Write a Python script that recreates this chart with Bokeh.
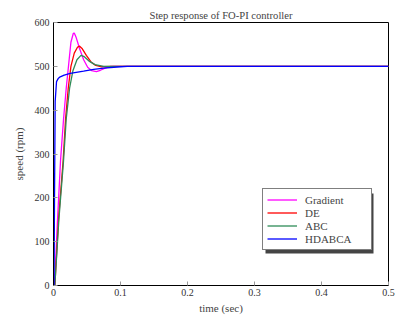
from bokeh.plotting import figure
from bokeh.models import Range1d, FixedTicker, Legend, LegendItem, BoxAnnotation
from bokeh.embed import file_html
from bokeh.resources import INLINE

# Data (time in s, speed in rpm)
t_grad = [0, 0.0015, 0.006, 0.0105, 0.015, 0.019, 0.023, 0.026, 0.0295, 0.031, 0.034, 0.039, 0.045,
          0.051, 0.057, 0.064, 0.070, 0.077, 0.085, 0.1, 0.2, 0.3, 0.4, 0.5]
v_grad = [0, 0, 150, 285, 380, 450, 510, 555, 575, 576, 565, 540, 515,
          498, 490, 488, 491, 496, 500, 500, 500, 500, 500, 500]

t_de = [0, 0.002, 0.0075, 0.0144, 0.018, 0.022, 0.026, 0.031, 0.036, 0.039, 0.043, 0.049,
        0.056, 0.063, 0.072, 0.09, 0.2, 0.3, 0.4, 0.5]
v_de = [0, 0, 150, 285, 380, 450, 500, 530, 544, 546, 540, 525,
        510, 502, 499, 500, 500, 500, 500, 500]

t_abc = [0, 0.002, 0.008, 0.015, 0.019, 0.024, 0.029, 0.035, 0.041, 0.046, 0.053, 0.062,
         0.075, 0.1, 0.2, 0.3, 0.4, 0.5]
v_abc = [0, 0, 150, 285, 380, 450, 490, 515, 525, 522, 512, 504,
         500, 500, 500, 500, 500, 500]

t_hd = [0, 0.0008, 0.0015, 0.0025, 0.0045, 0.007, 0.01, 0.016, 0.025, 0.045, 0.06, 0.075,
        0.095, 0.11, 0.2, 0.3, 0.4, 0.5]
v_hd = [0, 0, 200, 420, 465, 472, 476, 480, 484, 489, 493, 496,
        498.5, 500, 500, 500, 500, 500]

names = ["Gradient", "DE", "ABC", "HDABCA"]
colors = ["#ff00ff", "#ff0000", "#2e8b57", "#0000ff"]
x_ticks = [0, 0.1, 0.2, 0.3, 0.4, 0.5]
y_ticks = [0, 100, 200, 300, 400, 500, 600]

FONT = "Liberation Serif"

p = figure(width=395, height=320, output_backend="svg", toolbar_location=None,
           x_range=Range1d(0, 0.5), y_range=Range1d(0, 600),
           min_border_left=53, min_border_right=7, min_border_top=22, min_border_bottom=35)
p.title.text = "Step response of FO-PI controller"
p.title.text_font = FONT
p.title.text_font_size = "10.6px"
p.title.text_font_style = "normal"
p.title.align = "center"
p.title.standoff = 4

p.xgrid.visible = False
p.ygrid.visible = False
p.outline_line_color = "black"
p.outline_line_width = 1
p.background_fill_color = "white"

for ax in (p.xaxis[0], p.yaxis[0]):
    ax.major_tick_in = 4
    ax.major_tick_out = 0
    ax.minor_tick_in = 0
    ax.minor_tick_out = 0
    ax.axis_line_color = "black"
    ax.major_tick_line_color = "#999999"
    ax.major_label_text_font = FONT
    ax.major_label_text_font_size = "10px"
    ax.major_label_text_color = "#333333"
    ax.axis_label_text_font = FONT
    ax.axis_label_text_font_size = "11px"
    ax.axis_label_text_font_style = "normal"

p.xaxis[0].ticker = FixedTicker(ticks=x_ticks)
p.yaxis[0].ticker = FixedTicker(ticks=y_ticks)
p.xaxis[0].major_label_overrides = {0: "0"}
p.xaxis[0].axis_label = "time (sec)"
p.yaxis[0].axis_label = "speed (rpm)"
p.xaxis[0].major_label_standoff = 3
p.yaxis[0].major_label_standoff = 4
p.xaxis[0].axis_label_standoff = 3
p.yaxis[0].axis_label_standoff = 7

series = [(t_grad, v_grad), (t_de, v_de), (t_abc, v_abc), (t_hd, v_hd)]
items = []
for (tx, vy), name, col in zip(series, names, colors):
    r = p.line(tx, vy, line_color=col, line_width=1.3)
    items.append(LegendItem(label=name, renderers=[r]))

shadow = BoxAnnotation(left=212, right=320, bottom=32, top=92,
                       left_units="screen", right_units="screen",
                       bottom_units="screen", top_units="screen",
                       fill_color="#444444", fill_alpha=1.0, line_color=None)
p.add_layout(shadow)

legend = Legend(items=items, location=(209, 35))
legend.border_line_color = "black"
legend.border_line_width = 1
legend.background_fill_alpha = 1.0
legend.padding = 4
legend.spacing = 0
legend.margin = 0
legend.label_height = 13
legend.glyph_height = 13
legend.glyph_width = 30
legend.label_standoff = 8
legend.label_width = 62
legend.label_text_font = FONT
legend.label_text_font_size = "11px"
legend.label_text_baseline = "middle"
p.add_layout(legend)

open("out.html", "w").write(file_html(p, INLINE))
